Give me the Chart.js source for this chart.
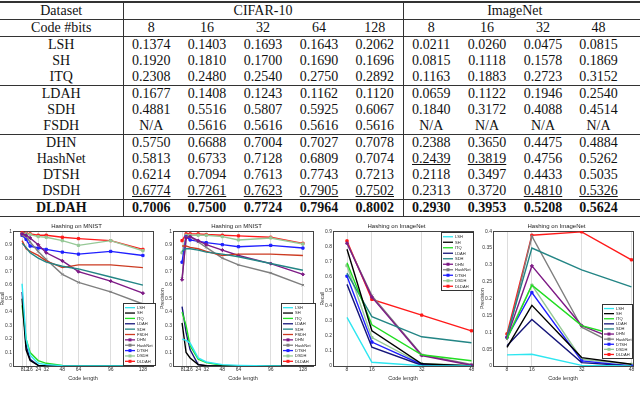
<!DOCTYPE html>
<html>
<head>
<meta charset="utf-8">
<script src="https://cdn.jsdelivr.net/npm/chart.js@4.4.0/dist/chart.umd.min.js"></script>
<style>
body { margin: 0; background: #fff; width: 640px; height: 403px; overflow: hidden; position: relative; }
#tbl { position: absolute; left: 0; top: 1px; width: 640px; table-layout: fixed; border-collapse: collapse;
       font-family: "Liberation Serif", "Times New Roman", serif; font-size: 14px; color: #111; }
#tbl td { padding: 0; height: 16px; line-height: 15px; text-align: center; white-space: nowrap; vertical-align: top; }
#tbl tr.top td { border-top: 2px solid #333; }
#tbl tr.rule td { border-bottom: 1px solid #333; }
#tbl td.sep { border-right: 1px solid #333; }
#tbl td.last { padding-right: 14px; }
#tbl b { font-weight: bold; }
#tbl u { text-decoration: underline; text-decoration-thickness: 1px; text-underline-offset: 1px; }
.box { position: absolute; top: 222px; width: 160px; height: 178px; }
</style>
</head>
<body>
<table id="tbl">
  <colgroup>
    <col style="width:123px">
    <col style="width:56px"><col style="width:56px"><col style="width:56px"><col style="width:56px"><col style="width:56px">
    <col style="width:56px"><col style="width:56px"><col style="width:56px"><col style="width:69px">
  </colgroup>
  <tbody id="tbody"></tbody>
</table>
<div class="box" style="left:0px"><canvas id="c1" width="160" height="178"></canvas></div>
<div class="box" style="left:160px"><canvas id="c2" width="160" height="178"></canvas></div>
<div class="box" style="left:320px"><canvas id="c3" width="160" height="178"></canvas></div>
<div class="box" style="left:480px"><canvas id="c4" width="160" height="178"></canvas></div>
<script>
// ---- table data ----
const tableMethods = ['LSH', 'SH', 'ITQ', 'LDAH', 'SDH', 'FSDH', 'DHN', 'HashNet', 'DTSH', 'DSDH', 'DLDAH'];
const cifarBits = [8, 16, 32, 64, 128];
const tableImagenetBits = [8, 16, 32, 48];
const cifarMap = [
  [0.1374, 0.1403, 0.1693, 0.1643, 0.2062],
  [0.1920, 0.1810, 0.1700, 0.1690, 0.1696],
  [0.2308, 0.2480, 0.2540, 0.2750, 0.2892],
  [0.1677, 0.1408, 0.1243, 0.1162, 0.1120],
  [0.4881, 0.5516, 0.5807, 0.5925, 0.6067],
  [null, 0.5616, 0.5616, 0.5616, 0.5616],
  [0.5750, 0.6688, 0.7004, 0.7027, 0.7078],
  [0.5813, 0.6733, 0.7128, 0.6809, 0.7074],
  [0.6214, 0.7094, 0.7613, 0.7743, 0.7213],
  [0.6774, 0.7261, 0.7623, 0.7905, 0.7502],
  [0.7006, 0.7500, 0.7724, 0.7964, 0.8002]
];
const imagenetMap = [
  [0.0211, 0.0260, 0.0475, 0.0815],
  [0.0815, 0.1118, 0.1578, 0.1869],
  [0.1163, 0.1883, 0.2723, 0.3152],
  [0.0659, 0.1122, 0.1946, 0.2540],
  [0.1840, 0.3172, 0.4088, 0.4514],
  [null, null, null, null],
  [0.2388, 0.3650, 0.4475, 0.4884],
  [0.2439, 0.3819, 0.4756, 0.5262],
  [0.2118, 0.3497, 0.4433, 0.5035],
  [0.2313, 0.3720, 0.4810, 0.5326],
  [0.2930, 0.3953, 0.5208, 0.5624]
];
const groupEnds = ['ITQ', 'FSDH', 'DSDH'];

// ---- chart data ----
const mnistBits = [8, 12, 16, 24, 32, 48, 64, 96, 128];
const imagenetBits = [8, 16, 32, 48];
const mnistMethods = ['LSH', 'SH', 'ITQ', 'LDAH', 'SDH', 'FSDH', 'DHN', 'HashNet', 'DTSH', 'DSDH', 'DLDAH'];
const imagenetMethods = ['LSH', 'SH', 'ITQ', 'LDAH', 'SDH', 'DHN', 'HashNet', 'DTSH', 'DSDH', 'DLDAH'];

const mnistRecall = [
  [0.61, 0.20, 0.08, 0.02, 0.01, 0.003, 0, 0, 0],
  [0.50, 0.12, 0.04, 0.005, 0, 0, 0, 0, 0],
  [0.45, 0.20, 0.10, 0.04, 0.02, 0.005, 0.002, 0, 0],
  [0.55, 0.15, 0.05, 0.005, 0, 0, 0, 0, 0],
  [0.91, 0.88, 0.84, 0.80, 0.77, 0.74, 0.72, 0.66, 0.60],
  [0.93, 0.87, 0.85, 0.82, 0.78, 0.73, 0.75, 0.75, 0.73],
  [0.98, 0.97, 0.95, 0.90, 0.84, 0.78, 0.70, 0.63, 0.54],
  [0.97, 0.96, 0.92, 0.85, 0.79, 0.68, 0.62, 0.55, 0.46],
  [0.97, 0.94, 0.89, 0.875, 0.865, 0.845, 0.83, 0.85, 0.82],
  [0.98, 0.98, 0.975, 0.96, 0.955, 0.93, 0.895, 0.93, 0.855],
  [0.99, 0.985, 0.98, 0.97, 0.97, 0.955, 0.945, 0.93, 0.865]
];
const mnistPrecision = [
  [0.20, 0.19, 0.17, 0.06, 0.03, 0.01, 0.005, 0, 0],
  [0.32, 0.10, 0.06, 0.01, 0.002, 0, 0, 0, 0],
  [0.40, 0.30, 0.15, 0.05, 0.025, 0.005, 0.002, 0, 0],
  [0.44, 0.25, 0.12, 0.01, 0.003, 0, 0, 0, 0],
  [0.85, 0.87, 0.87, 0.86, 0.845, 0.83, 0.81, 0.76, 0.71],
  [0.89, 0.89, 0.88, 0.87, 0.85, 0.82, 0.83, 0.83, 0.82],
  [0.64, 0.95, 0.96, 0.93, 0.90, 0.86, 0.82, 0.76, 0.68],
  [0.65, 0.96, 0.96, 0.92, 0.88, 0.80, 0.75, 0.69, 0.60],
  [0.77, 0.96, 0.935, 0.925, 0.915, 0.90, 0.885, 0.895, 0.875],
  [0.84, 0.97, 0.97, 0.97, 0.97, 0.96, 0.935, 0.95, 0.905],
  [0.93, 0.98, 0.98, 0.98, 0.975, 0.97, 0.965, 0.955, 0.91]
];
const imagenetRecall = [
  [0.325, 0.025, 0.002, 0],
  [0.78, 0.235, 0.015, 0],
  [0.69, 0.275, 0.075, 0.035],
  [0.545, 0.125, 0.005, 0],
  [0.62, 0.33, 0.195, 0.155],
  [0.82, 0.46, 0.07, 0.005],
  [0.82, 0.47, 0.075, 0.01],
  [0.60, 0.16, 0.01, 0],
  [0.67, 0.19, 0.015, 0.005],
  [0.835, 0.445, 0.34, 0.235]
];
const imagenetPrecision = [
  [0.033, 0.035, 0.002, 0],
  [0.055, 0.18, 0.025, 0.005],
  [0.08, 0.24, 0.12, 0.08],
  [0.06, 0.138, 0.01, 0],
  [0.09, 0.35, 0.285, 0.235],
  [0.085, 0.297, 0.12, 0.06],
  [0.08, 0.385, 0.115, 0.04],
  [0.085, 0.218, 0.015, 0],
  [0.085, 0.24, 0.02, 0.005],
  [0.095, 0.388, 0.398, 0.315]
];

// line styles per method
const methodStyle = {
  LSH:     { color: '#2ee6f0', point: false },
  SH:      { color: '#000000', point: false },
  ITQ:     { color: '#22dd22', point: false },
  LDAH:    { color: '#16167a', point: false },
  SDH:     { color: '#238585', point: false },
  FSDH:    { color: '#cc3b22', point: false },
  DHN:     { color: '#7d1a85', point: 'rectRot' },
  HashNet: { color: '#7f7f7f', point: 'crossRot' },
  DTSH:    { color: '#1f1fff', point: 'rect' },
  DSDH:    { color: '#96c896', point: 'rect' },
  DLDAH:   { color: '#ff1a1a', point: 'rect' }
};

// ---- build table ----
function fmt(v) { return v === null ? 'N/A' : v.toFixed(4); }
function rankOf(rows, col, i) {
  const vals = rows.map(r => r[col]).filter(v => v !== null).sort((a, b) => b - a);
  const v = rows[i][col];
  if (v === null) return -1;
  return vals.indexOf(v);
}
const tbody = document.getElementById('tbody');
let html = '<tr class="top rule"><td class="sep">Dataset</td><td colspan="5" class="sep">CIFAR-10</td><td colspan="4" class="last">ImageNet</td></tr>';
html += '<tr class="rule"><td class="sep">Code #bits</td>';
cifarBits.forEach((b, j) => { html += '<td' + (j === 4 ? ' class="sep"' : '') + '>' + b + '</td>'; });
tableImagenetBits.forEach((b, j) => { html += '<td' + (j === 3 ? ' class="last"' : '') + '>' + b + '</td>'; });
html += '</tr>';
tableMethods.forEach((m, i) => {
  const cls = (groupEnds.includes(m) || i === tableMethods.length - 1) ? ' class="rule"' : '';
  const bold = i === tableMethods.length - 1;
  html += '<tr' + cls + '><td class="sep">' + (bold ? '<b>' + m + '</b>' : m) + '</td>';
  const cell = (rows, j) => {
    const r = rankOf(rows, j, i);
    let t = fmt(rows[i][j]);
    if (r === 0) t = '<b>' + t + '</b>';
    if (r === 1) t = '<u>' + t + '</u>';
    return t;
  };
  cifarBits.forEach((b, j) => { html += '<td' + (j === 4 ? ' class="sep"' : '') + '>' + cell(cifarMap, j) + '</td>'; });
  tableImagenetBits.forEach((b, j) => { html += '<td' + (j === 3 ? ' class="last"' : '') + '>' + cell(imagenetMap, j) + '</td>'; });
  html += '</tr>';
});
tbody.innerHTML = html;

// ---- charts ----
const tinyFont = { family: '"Liberation Sans", Arial, sans-serif', size: 5 };

const frameBox = {
  id: 'frameBox',
  beforeDatasetsDraw(chart) {
    const a = chart.chartArea, ctx = chart.ctx;
    ctx.save();
    ctx.strokeStyle = '#444';
    ctx.lineWidth = 1;
    ctx.strokeRect(Math.round(a.left) + 0.5, Math.round(a.top) + 0.5, Math.round(a.right - a.left), Math.round(a.bottom - a.top));
    ctx.restore();
  }
};

const legendBox = {
  id: 'legendBox',
  afterDatasetsDraw(chart, args, opts) {
    const ctx = chart.ctx, a = chart.chartArea;
    const sets = chart.data.datasets;
    const w = opts.width, h = opts.height;
    const x0 = Math.round(a.right - w - opts.dx);
    const y0 = Math.round(opts.atTop ? a.top + opts.gap : a.bottom - h - opts.gap);
    ctx.save();
    ctx.fillStyle = '#fff';
    ctx.fillRect(x0, y0, w, h);
    ctx.strokeStyle = '#333';
    ctx.lineWidth = 1;
    ctx.strokeRect(x0 + 0.5, y0 + 0.5, w, h);
    const step = (h - 3) / sets.length;
    ctx.font = '4px "Liberation Sans", Arial, sans-serif';
    ctx.textBaseline = 'middle';
    sets.forEach((ds, i) => {
      const y = y0 + 2 + step * (i + 0.5);
      ctx.strokeStyle = ds.borderColor;
      ctx.lineWidth = 1.3;
      ctx.beginPath();
      ctx.moveTo(x0 + 2, y);
      ctx.lineTo(x0 + 12, y);
      ctx.stroke();
      if (ds.pointRadius > 0) {
        ctx.fillStyle = ds.borderColor;
        ctx.fillRect(x0 + 5.5, y - 1.5, 3, 3);
      }
      ctx.fillStyle = '#222';
      ctx.fillText(ds.label, x0 + 14, y + 0.3);
    });
    ctx.restore();
  }
};

function drawChart(id, title, bits, methods, values, xMin, xMax, yMax, yStep, yTitle, legend) {
  const datasets = methods.map((m, i) => {
    const st = methodStyle[m];
    return {
      label: m,
      data: bits.map((b, j) => ({ x: b, y: values[i][j] })),
      borderColor: st.color,
      backgroundColor: st.color,
      borderWidth: 1.4,
      pointRadius: st.point ? 1.6 : 0,
      pointStyle: st.point || 'circle',
      pointBorderWidth: 1,
      tension: 0
    };
  });
  return new Chart(document.getElementById(id), {
    type: 'line',
    data: { datasets },
    options: {
      responsive: false,
      animation: false,
      layout: { padding: { left: 0, right: 7, top: 0, bottom: 18 } },
      plugins: {
        legend: { display: false },
        tooltip: { enabled: false },
        title: { display: true, text: title, color: '#222', font: { ...tinyFont, size: 6, weight: 'normal' }, padding: { top: 1, bottom: 1 } },
        legendBox: legend
      },
      scales: {
        x: {
          type: 'linear', min: xMin, max: xMax,
          afterBuildTicks: s => { s.ticks = bits.map(v => ({ value: v })); },
          afterFit: s => { s.height = 16; },
          ticks: { autoSkip: false, maxRotation: 0, color: '#333', font: tinyFont, padding: 1 },
          grid: { color: '#d4d4d4', lineWidth: 0.8, drawTicks: false },
          border: { display: false },
          title: { display: true, text: 'Code length', color: '#333', font: { ...tinyFont, size: 5.5 }, padding: 0 }
        },
        y: {
          min: 0, max: yMax,
          afterFit: s => { s.width = 13; },
          ticks: { stepSize: yStep, color: '#333', font: tinyFont, padding: 1, callback: v => String(+v.toFixed(2)) },
          grid: { display: false, drawTicks: false },
          border: { display: false },
          title: { display: true, text: yTitle, color: '#333', font: { ...tinyFont, size: 5 }, padding: 0 }
        }
      }
    },
    plugins: [frameBox, legendBox]
  });
}

drawChart('c1', 'Hashing on MNIST', mnistBits, mnistMethods, mnistRecall, -1, 138, 1, 0.1, 'Recall',
  { width: 32, height: 62, dx: -2, gap: 1, atTop: false });
drawChart('c2', 'Hashing on MNIST', mnistBits, mnistMethods, mnistPrecision, -1, 138, 1, 0.1, 'Precision',
  { width: 34, height: 62, dx: -2, gap: 1, atTop: false });
drawChart('c3', 'Hashing on ImageNet', imagenetBits, imagenetMethods, imagenetRecall, 3.5, 48.5, 0.9, 0.1, 'Recall',
  { width: 32, height: 58, dx: 0, gap: 1, atTop: true });
drawChart('c4', 'Hashing on ImageNet', imagenetBits, imagenetMethods, imagenetPrecision, 3.5, 48.5, 0.4, 0.05, 'Precision',
  { width: 30, height: 54, dx: 1, gap: 8, atTop: false });
</script>
</body>
</html>
